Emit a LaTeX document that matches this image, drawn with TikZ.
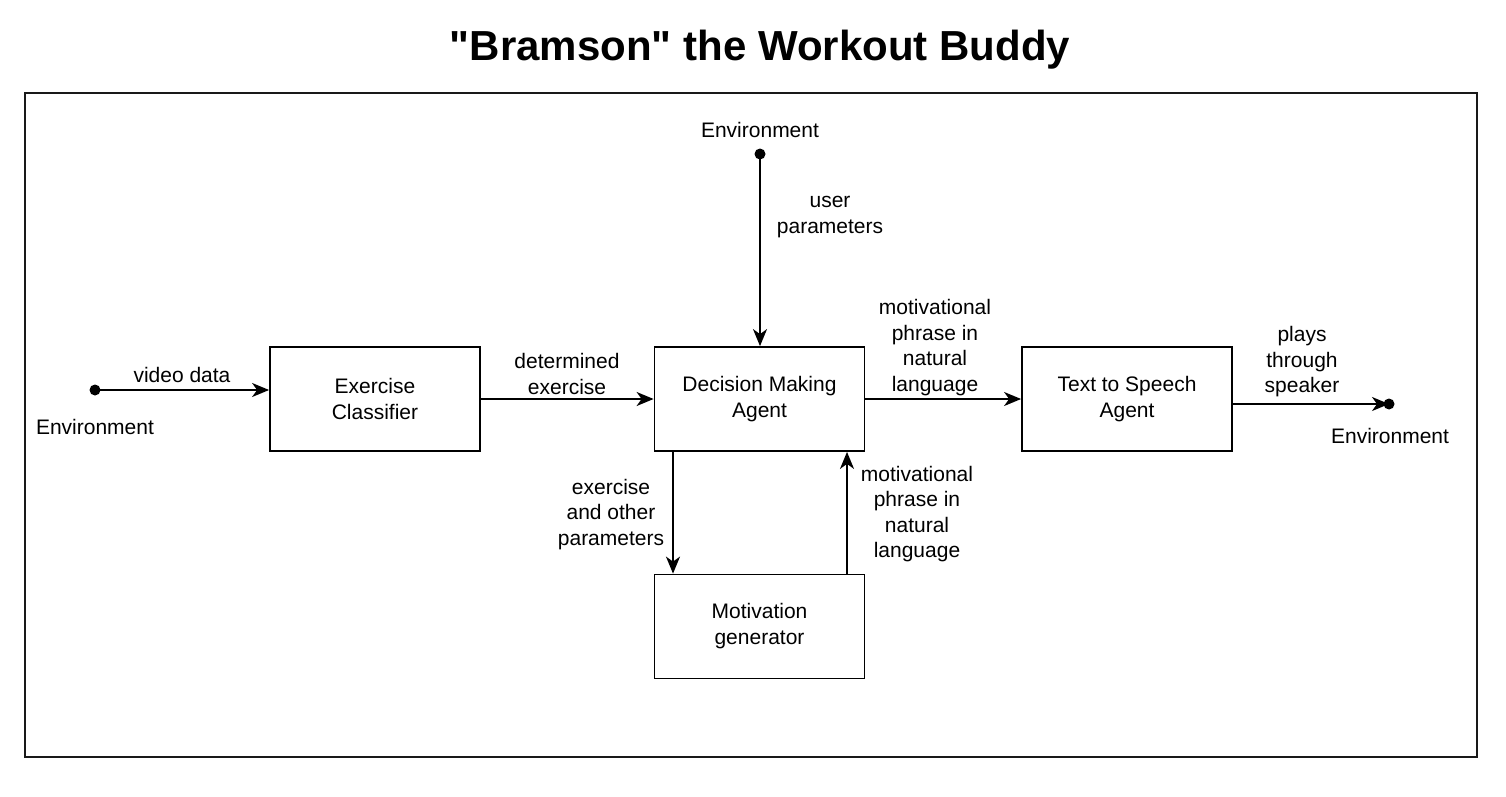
\documentclass[tikz,border=0pt]{standalone}
\usepackage{fontspec}
\setmainfont{Liberation Sans}
\newfontfamily\titlefont{Liberation Sans}
\usetikzlibrary{arrows.meta}
\begin{document}
\begin{tikzpicture}[x=1pt,y=-1pt,
  blk/.style={draw=black, line width=1.8pt, minimum width=210pt, minimum height=104pt, align=center, inner sep=0pt, font=\fontsize{21}{26}\selectfont},
  lbl/.style={align=center, inner sep=0pt, font=\fontsize{21}{25.5}\selectfont},
  conn/.style={line width=1.8pt, -{Stealth[length=17pt, width=14pt, inset=5pt]}},
  dotc/.style={circle, fill=black, inner sep=0pt, minimum size=11pt}
]
\useasboundingbox (0,0) rectangle (1506,797);
\node[font=\titlefont\fontsize{42}{50}\selectfont\bfseries] (title) at (760,50) {"Bramson" the Workout Buddy};
\draw[line width=2pt, draw=black!90] (25,93) rectangle (1477,757);

\node[blk] (ec) at (375,399) {Exercise\\Classifier};
\node[blk] (dma) at (759.5,399) {Decision Making\\Agent};
\node[blk] (tts) at (1127,399) {Text to Speech\\Agent};
\node[blk] (mg) at (759.5,626.5) {Motivation\\generator};

\node[dotc] (envL) at (95,390) {};
\node[lbl] (envLt) at (95,427) {Environment};
\node[dotc] (envT) at (760,154) {};
\node[lbl] (envTt) at (760,130) {Environment};
\node[dotc] (envR) at (1389,404) {};
\node[lbl] (envRt) at (1390,436) {Environment};

\draw[conn] (envL.center) -- (envL.center -| ec.west) coordinate (a1);
\node[lbl] at (182,375) {video data};

\draw[conn] (ec.east) -- (dma.west);
\node[lbl] at (567,374) {determined\\exercise};

\draw[conn] (envT.center) -- (envT.center |- dma.north);
\node[lbl] at (830,217) {user\\parameters};

\draw[conn] (dma.east) -- (tts.west);
\node[lbl] at (935,347.5) {motivational\\phrase in\\natural\\language};

\draw[conn] (tts.east |- envR) -- (envR.center);
\node[lbl] at (1302,362) {plays\\through\\speaker};

\draw[conn] (673,451) coordinate (d1) -- (d1 |- mg.north);
\node[lbl] at (611,514.5) {exercise\\and other\\parameters};

\draw[conn] (847,574) coordinate (u1) -- (u1 |- dma.south);
\node[lbl] at (917,514) {motivational\\phrase in\\natural\\language};
\end{tikzpicture}
\end{document}
